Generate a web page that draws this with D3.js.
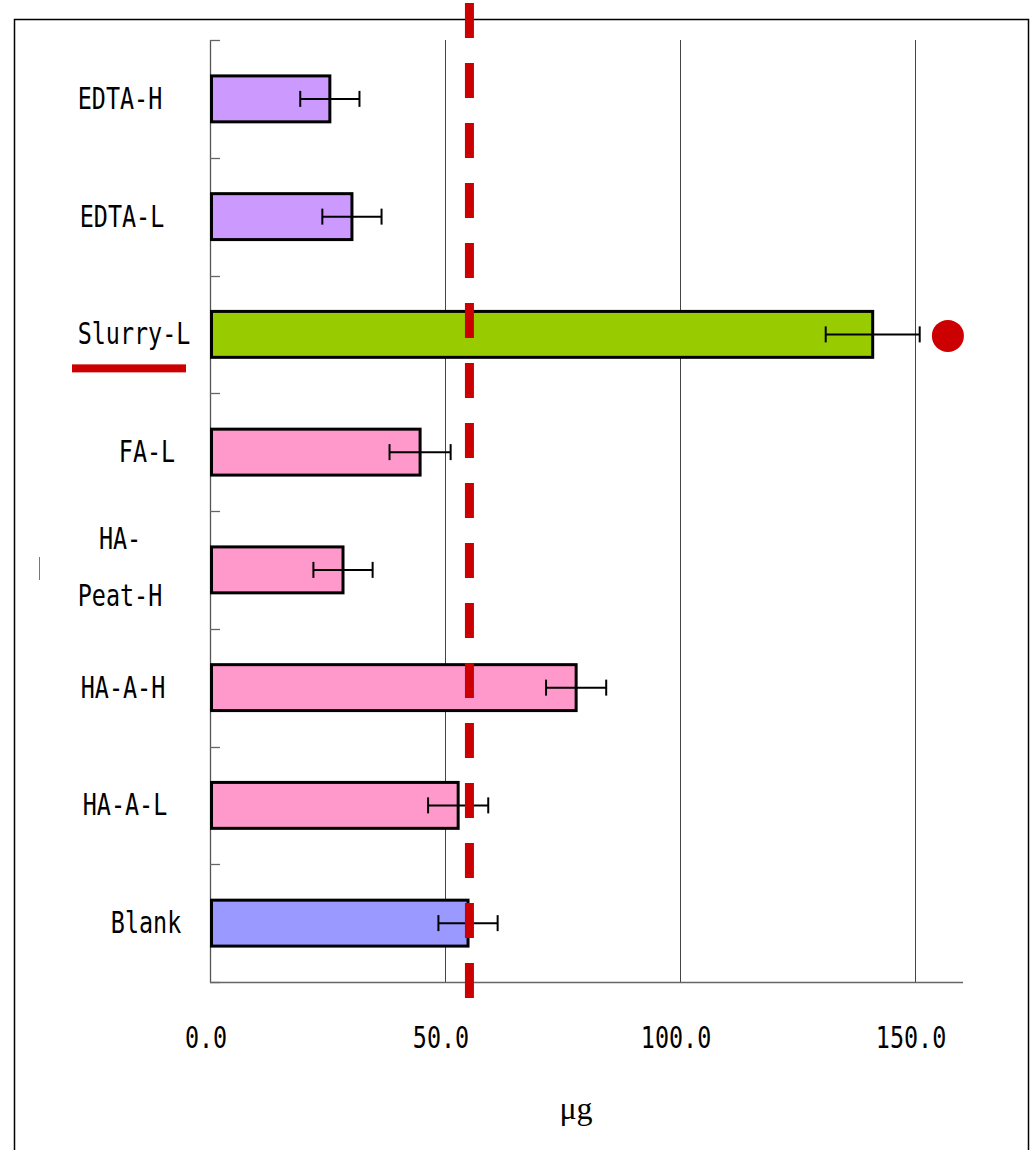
<!DOCTYPE html>
<html>
<head>
<meta charset="utf-8">
<script src="https://cdn.jsdelivr.net/npm/d3@7"></script>
<style>
  body { margin: 0; background: #fff; }
  svg { display: block; }
</style>
</head>
<body>
<div id="chart"></div>
<script>
// data (µg)
const categories = ["EDTA-H", "EDTA-L", "Slurry-L", "FA-L", "HA-Peat-H", "HA-A-H", "HA-A-L", "Blank"];
const labelLines = [["EDTA-H"], ["EDTA-L"], ["Slurry-L"], ["FA-L"], ["HA-", "Peat-H"], ["HA-A-H"], ["HA-A-L"], ["Blank"]];
const means = [25.5, 30.2, 141.0, 44.7, 28.3, 77.9, 52.8, 54.9];
const errors = [6.3, 6.3, 10.0, 6.5, 6.3, 6.4, 6.4, 6.3];
const groups = ["EDTA", "EDTA", "Slurry", "HA", "HA", "HA", "HA", "Blank"];
const xTicks = [0, 50, 100, 150];
const refValue = 55.2;          // red dashed line
const highlight = "Slurry-L";   // underlined + red dot
const dotValue = 157;

const W = 1034, H = 1150;
const colour = d3.scaleOrdinal()
  .domain(["EDTA", "Slurry", "HA", "Blank"])
  .range(["#cc99ff", "#99cc00", "#ff99cc", "#9999ff"]);

// label centres wander a bit in the original (excel layout)
const labelCx = [120, 122, 134, 147, 120, 123, 125, 146];

const svg = d3.select("#chart").append("svg")
  .attr("width", W).attr("height", H);

// outer frame
svg.append("rect")
  .attr("x", 14.5).attr("y", 19.5)
  .attr("width", 1014).attr("height", 1160)
  .attr("fill", "none").attr("stroke", "#000").attr("stroke-width", 1.5);

const x = d3.scaleLinear().domain([0, 160]).range([210, 962]);
const y = d3.scaleBand().domain(categories).range([40, 982])
  .paddingInner(0.61).paddingOuter(0.305);
const step = y.step();

// gridlines
svg.append("g").selectAll("line")
  .data(xTicks.filter(d => d > 0))
  .join("line")
  .attr("x1", d => x(d) + 0.5).attr("x2", d => x(d) + 0.5)
  .attr("y1", 40).attr("y2", 982)
  .attr("stroke", "#444").attr("stroke-width", 1);

// y axis with inward ticks at the band boundaries
const yTickPos = d3.range(categories.length + 1).map(i => 40 + i * step);
svg.append("line")
  .attr("x1", 210.5).attr("x2", 210.5).attr("y1", 40).attr("y2", 982)
  .attr("stroke", "#555").attr("stroke-width", 1.3);
svg.append("g").selectAll("line")
  .data(yTickPos)
  .join("line")
  .attr("x1", 210).attr("x2", 220)
  .attr("y1", d => Math.round(d) + 0.5).attr("y2", d => Math.round(d) + 0.5)
  .attr("stroke", "#666").attr("stroke-width", 1.3);

// x axis line
svg.append("line")
  .attr("x1", 210).attr("x2", 963).attr("y1", 982.5).attr("y2", 982.5)
  .attr("stroke", "#666").attr("stroke-width", 1.3);

// bars
svg.append("g").selectAll("rect")
  .data(categories)
  .join("rect")
  .attr("x", x(0) + 1.5)
  .attr("y", d => y(d))
  .attr("width", (d, i) => x(means[i]) - x(0) - 1.5)
  .attr("height", y.bandwidth())
  .attr("fill", (d, i) => colour(groups[i]))
  .attr("stroke", "#000").attr("stroke-width", 3);

// error bars
const eb = svg.append("g").attr("stroke", "#000").attr("stroke-width", 2);
categories.forEach((c, i) => {
  const cy = y(c) + y.bandwidth() / 2;
  const lo = x(means[i] - errors[i]), hi = x(means[i] + errors[i]);
  eb.append("line").attr("x1", lo).attr("x2", hi).attr("y1", cy).attr("y2", cy);
  eb.append("line").attr("x1", lo).attr("x2", lo).attr("y1", cy - 8).attr("y2", cy + 8);
  eb.append("line").attr("x1", hi).attr("x2", hi).attr("y1", cy - 8).attr("y2", cy + 8);
});

// red dashed reference line
svg.append("line")
  .attr("x1", x(refValue)).attr("x2", x(refValue))
  .attr("y1", 3).attr("y2", 1000)
  .attr("stroke", "#cc0000").attr("stroke-width", 9)
  .attr("stroke-dasharray", "35,25");

// red dot next to the highlighted bar
svg.append("circle")
  .attr("cx", x(dotValue))
  .attr("cy", y(highlight) + y.bandwidth() / 2 + 1.5)
  .attr("r", 16)
  .attr("fill", "#cc0000");

// category labels (narrow gothic look: mono font squeezed)
const gothic = "'DejaVu Sans Mono', monospace";
const lab = svg.append("g");
categories.forEach((c, i) => {
  const cy = y(c) + y.bandwidth() / 2;
  const lines = labelLines[i];
  lines.forEach((t, j) => {
    const by = lines.length === 1 ? cy + 10 : cy - 21 + j * 57;
    lab.append("text")
      .attr("transform", `translate(${labelCx[i]},${by}) scale(0.78,1)`)
      .attr("text-anchor", "middle")
      .style("font-family", gothic)
      .style("font-size", "30px")
      .attr("fill", "#000")
      .text(t);
  });
});

// underline for the highlighted label
svg.append("rect")
  .attr("x", 72).attr("y", y(highlight) + y.bandwidth() / 2 + 30)
  .attr("width", 114).attr("height", 8)
  .attr("fill", "#cc0000");

// small stray mark at the left
svg.append("line")
  .attr("x1", 39.5).attr("x2", 39.5).attr("y1", 557).attr("y2", 580)
  .attr("stroke", "#777").attr("stroke-width", 1);

// x tick labels
svg.append("g").selectAll("text")
  .data(xTicks)
  .join("text")
  .attr("transform", d => `translate(${x(d) - 4},1048) scale(0.78,1)`)
  .attr("text-anchor", "middle")
  .style("font-family", gothic)
  .style("font-size", "30px")
  .attr("fill", "#000")
  .text(d => d3.format(".1f")(d));

// axis title
svg.append("text")
  .attr("x", 576).attr("y", 1119)
  .attr("text-anchor", "middle")
  .style("font-family", "'Liberation Serif', serif")
  .style("font-size", "32px")
  .attr("fill", "#000")
  .text("μg");
</script>
</body>
</html>
